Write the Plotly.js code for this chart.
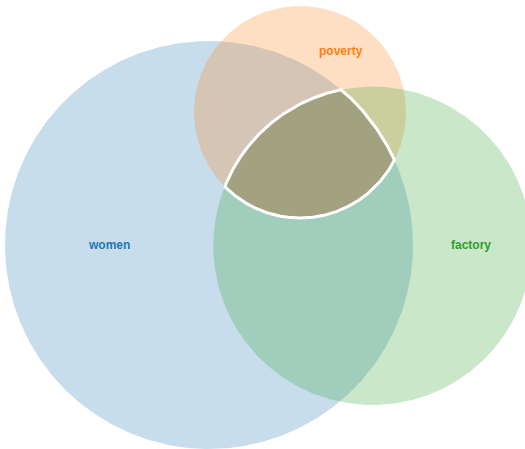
<!DOCTYPE html>
<html>
<head>
<meta charset="utf-8">
<script src="https://cdn.plot.ly/plotly-3.0.1.min.js"></script>
<style>html,body{margin:0;padding:0;background:#fff;}#chart{width:525px;height:449px;}</style>
</head>
<body>
<div id="chart"></div>
<script>
// Venn sets (layout in chart units)
const setNames = ["women", "poverty", "factory"];
const centerX = [209, 300, 372.5];
const centerY = [204, 337, 203.2];
const radius = [204, 106, 159.2];
const setColors = ["#1f77b4", "#ff7f0e", "#2ca02c"];
const labelX = [109, 341, 471];
const labelY = [204, 398, 204];
const tripleColor = "#8c564b";

function rgba(hex, a) {
  const n = parseInt(hex.slice(1), 16);
  return `rgba(${(n >> 16) & 255},${(n >> 8) & 255},${n & 255},${a})`;
}

function circlePts(i, n) {
  const xs = [], ys = [];
  for (let k = 0; k <= n; k++) {
    const t = 2 * Math.PI * k / n;
    xs.push(centerX[i] + radius[i] * Math.cos(t));
    ys.push(centerY[i] + radius[i] * Math.sin(t));
  }
  return [xs, ys];
}

const traces = setNames.map((name, i) => {
  const [xs, ys] = circlePts(i, 720);
  return {
    type: "scatter", mode: "lines", x: xs, y: ys, fill: "toself",
    fillcolor: rgba(setColors[i], 0.25), line: {width: 0, color: "rgba(0,0,0,0)"},
    hoverinfo: "skip", name: name
  };
});

// triple intersection boundary
function inside(x, y, j) {
  const dx = x - centerX[j], dy = y - centerY[j];
  return dx * dx + dy * dy <= radius[j] * radius[j] + 1e-6;
}
let pts = [];
for (let i = 0; i < 3; i++) {
  const n = 4000;
  for (let k = 0; k < n; k++) {
    const t = 2 * Math.PI * k / n;
    const x = centerX[i] + radius[i] * Math.cos(t);
    const y = centerY[i] + radius[i] * Math.sin(t);
    let ok = true;
    for (let j = 0; j < 3; j++) if (j !== i && !inside(x, y, j)) ok = false;
    if (ok) pts.push([x, y]);
  }
}
const mx = pts.reduce((s, p) => s + p[0], 0) / pts.length;
const my = pts.reduce((s, p) => s + p[1], 0) / pts.length;
pts.sort((a, b) => Math.atan2(a[1] - my, a[0] - mx) - Math.atan2(b[1] - my, b[0] - mx));
pts.push(pts[0]);
traces.push({
  type: "scatter", mode: "lines", x: pts.map(p => p[0]), y: pts.map(p => p[1]),
  fill: "toself", fillcolor: rgba(tripleColor, 0.25),
  line: {width: 3, color: "#ffffff"}, hoverinfo: "skip"
});

const annotations = setNames.map((name, i) => ({
  x: labelX[i], y: labelY[i], xref: "x", yref: "y", text: name, showarrow: false,
  font: {family: "Liberation Sans, Arial, sans-serif", size: 12, weight: "bold", color: setColors[i]}
}));

Plotly.newPlot("chart", traces, {
  width: 525, height: 449,
  margin: {l: 0, r: 0, t: 0, b: 0},
  xaxis: {range: [0, 525], visible: false, fixedrange: true},
  yaxis: {range: [0, 449], visible: false, fixedrange: true},
  showlegend: false,
  paper_bgcolor: "#ffffff", plot_bgcolor: "#ffffff",
  annotations: annotations
}, {displayModeBar: false, staticPlot: true});
</script>
</body>
</html>
